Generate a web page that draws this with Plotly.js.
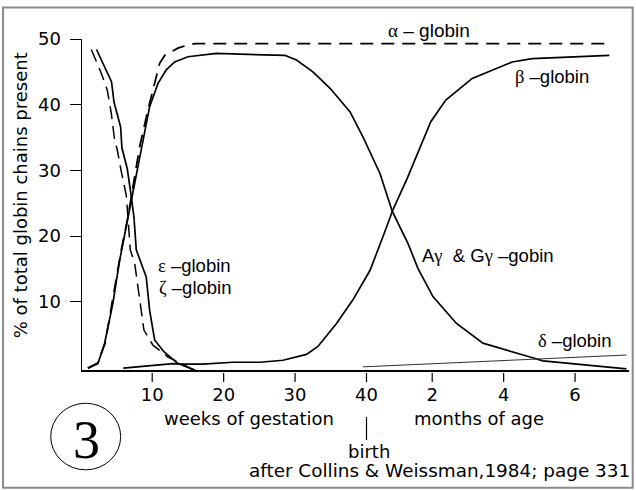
<!DOCTYPE html>
<html>
<head>
<meta charset="utf-8">
<script src="https://cdn.plot.ly/plotly-3.0.1.min.js"></script>
<style>html,body{margin:0;padding:0;background:#fff;}#chart{width:636px;height:491px;}</style>
</head>
<body>
<div id="chart"></div>
<script>
// x unit: weeks of gestation (after birth, months mapped onto the drawn axis)
const tickVals = [10, 20, 30, 40, 49.2, 59.2, 69.2];
const tickText = ['10', '20', '30', '40', '2', '4', '6'];
const yTickVals = [10, 20, 30, 40, 50];

// epsilon-globin (solid, falling)
const epsX = [2.2, 4.3, 4.65, 5.58, 5.76, 6.5, 7.07, 7.44, 7.77, 9.16, 9.64, 10.34, 11.64, 13.6, 16.0];
const epsY = [48.4, 43.5, 40.4, 36.6, 33.4, 30.3, 26.0, 22.9, 17.9, 13.8, 8.7, 4.2, 2.4, 0.6, -0.4];

// zeta-globin (dashed, falling)
const zetaX = [1.47, 2.87, 3.71, 4.27, 4.74, 5.11, 5.67, 6.37, 6.6, 6.93, 7.54, 8.24, 8.84, 10.1, 12.2, 15.0, 15.7];
const zetaY = [48.4, 44.8, 42.2, 38.7, 34.6, 33.1, 29.8, 26.2, 22.9, 17.9, 15.9, 10.3, 5.7, 3.4, 1.6, 0.1, -0.4];

// alpha-globin (dashed)
const alphaX = [1.0, 2.4, 3.4, 4.04, 5.67, 6.6, 7.54, 8.24, 9.4, 10.1, 11.04, 11.74, 13.6, 15.0, 16.0, 74.0];
const alphaY = [-0.1, 0.7, 3.7, 7.7, 17.9, 22.9, 29.0, 33.6, 39.2, 42.2, 46.3, 47.5, 48.6, 49.1, 49.3, 49.3];

// A-gamma & G-gamma globin (solid)
const gammaX = [1.0, 2.4, 3.34, 4.5, 5.44, 7.07, 8.7, 9.64, 10.8, 11.96, 13.14, 15.0, 19.0, 28.6, 30.2, 32.5, 34.9, 37.7, 39.5, 41.9, 43.6, 45.8, 47.2, 49.3, 52.6, 56.3, 62.9, 64.7, 76.4];
const gammaY = [-0.1, 0.6, 3.7, 9.8, 16.3, 25.5, 34.6, 39.7, 43.2, 45.3, 46.5, 47.3, 47.8, 47.5, 46.8, 45.0, 42.5, 38.9, 35.1, 29.5, 23.8, 18.9, 15.1, 10.8, 6.7, 3.7, 1.6, 1.0, -0.2];

// beta-globin (solid)
const betaX = [5.95, 9.2, 12.9, 14.6, 17.1, 21.3, 25.1, 28.3, 31.6, 33.2, 35.8, 38.1, 40.5, 42.3, 43.7, 45.7, 49.0, 51.1, 54.8, 60.4, 63.2, 74.0];
const betaY = [-0.1, 0.2, 0.6, 0.5, 0.5, 0.8, 0.8, 1.1, 2.0, 3.2, 6.7, 10.3, 14.8, 19.9, 24.0, 28.8, 37.4, 40.7, 44.0, 46.5, 47.0, 47.5];

// delta-globin (thin solid)
const deltaX = [39.5, 62.9, 76.4];
const deltaY = [0.1, 1.3, 1.9];

// ---- layout geometry (pixels) ----
const L = 82, R = 629.3, T = 38.5, B = 370;
const px = x => (x - L) / (R - L);
const py = y => (B - y) / (B - T);

const sans = 'Liberation Sans, Arial, sans-serif';
const dv = 'DejaVu Sans, Verdana, sans-serif';
const serif = 'Liberation Serif, Times New Roman, serif';
const g = s => '<span style="font-family:Liberation Serif">' + s + '</span>';

const traces = [
  {x: alphaX, y: alphaY, mode: 'lines', line: {color: '#000', width: 1.8, dash: '13px,8px'}},
  {x: zetaX, y: zetaY, mode: 'lines', line: {color: '#000', width: 1.5, dash: '13px,7px'}},
  {x: epsX, y: epsY, mode: 'lines', line: {color: '#000', width: 1.7}},
  {x: gammaX, y: gammaY, mode: 'lines', line: {color: '#000', width: 1.7}},
  {x: betaX, y: betaY, mode: 'lines', line: {color: '#000', width: 1.7}},
  {x: deltaX, y: deltaY, mode: 'lines', line: {color: '#333', width: 1}}
];

const shapes = [];
tickVals.forEach(v => shapes.push({type: 'line', xref: 'x', yref: 'paper', x0: v, x1: v, y0: py(373), y1: py(382), line: {color: '#000', width: 1.2}}));
shapes.push({type: 'line', xref: 'x', yref: 'paper', x0: 40, x1: 40, y0: py(417), y1: py(440), line: {color: '#000', width: 1.2}});
shapes.push({type: 'circle', xref: 'paper', yref: 'paper', x0: px(50.7), x1: px(120.7), y0: py(470), y1: py(403.3), line: {color: '#000', width: 1}});
shapes.push({type: 'rect', xref: 'paper', yref: 'paper', x0: px(3), x1: px(633), y0: py(488), y1: py(7), line: {color: '#8a8a8a', width: 2}});

function ann(text, x, y, font, size, extra) {
  return Object.assign({text: text, xref: 'paper', yref: 'paper', x: px(x), y: py(y), xanchor: 'center', yanchor: 'middle', showarrow: false, font: {family: font, size: size, color: '#000'}}, extra || {});
}

const annotations = [
  ann(g('α') + ' – globin', 429, 29.5, sans, 19),
  ann(g('β') + ' –globin', 552, 76.5, sans, 18.5),
  ann(g('ε') + ' –globin', 195, 265, sans, 18.5),
  ann(g('ζ') + ' –globin', 195, 287, sans, 18.5),
  ann('A' + g('γ') + '  & G' + g('γ') + ' –gobin', 488.5, 255, sans, 18.5),
  ann(g('δ') + ' –globin', 575.5, 340, sans, 18.5),
  ann('weeks of gestation', 249, 418.5, dv, 18),
  ann('months of age', 479, 418.5, dv, 18),
  ann('birth', 369, 451.5, dv, 18),
  ann('after Collins &amp; Weissman,1984; page 331', 439.5, 471, dv, 18.4),
  ann('3', 87, 440, serif, 54),
  ann('% of total globin chains present', 20, 195, dv, 18, {textangle: -90})
];

const layout = {
  width: 636, height: 491,
  margin: {l: L, r: 636 - R, t: T, b: 491 - B, pad: 0},
  paper_bgcolor: '#fff', plot_bgcolor: '#fff',
  showlegend: false,
  xaxis: {
    range: [0.17, 76.75], showgrid: false, zeroline: false,
    showline: true, linecolor: '#000', linewidth: 2,
    tickmode: 'array', tickvals: tickVals, ticktext: tickText,
    ticks: 'outside', ticklen: 7, tickcolor: 'rgba(0,0,0,0)',
    tickfont: {family: dv, size: 18, color: '#000'}
  },
  yaxis: {
    range: [-0.38, 50], showgrid: false, zeroline: false,
    showline: true, linecolor: '#000', linewidth: 1.5,
    tickmode: 'array', tickvals: yTickVals,
    ticks: 'outside', ticklen: 11, tickwidth: 1, tickcolor: '#000',
    ticklabelstandoff: 5,
    tickfont: {family: dv, size: 18, color: '#000'}
  },
  shapes: shapes,
  annotations: annotations
};

Plotly.newPlot('chart', traces, layout, {staticPlot: true, displayModeBar: false});
</script>
</body>
</html>
